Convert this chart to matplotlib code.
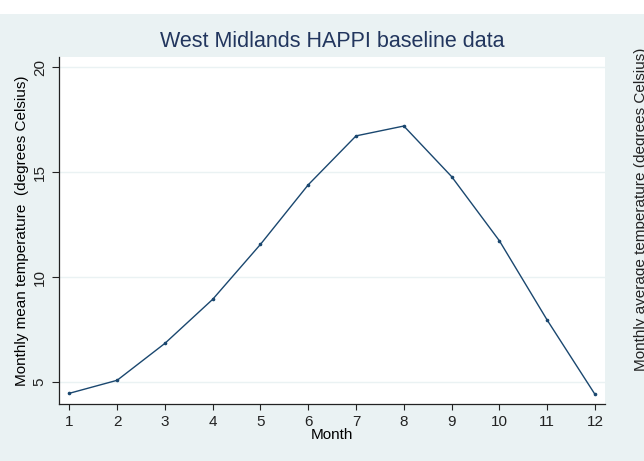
import matplotlib.pyplot as plt
from matplotlib.patches import Rectangle

plt.rcParams['font.family'] = ['Liberation Sans', 'DejaVu Sans']

# data
month = [1, 2, 3, 4, 5, 6, 7, 8, 9, 10, 11, 12]
temp = [4.46, 5.08, 6.84, 8.94, 11.56, 14.40, 16.73, 17.20, 14.79, 11.73, 7.95, 4.41]
yticks = [5, 10, 15, 20]

bg = '#eaf2f3'
navy = '#1a476f'

fig = plt.figure(figsize=(6.44, 4.61), dpi=100, facecolor='white')
# stata-like grey-blue background, white strip at top
fig.patches.append(Rectangle((0, 0), 1, (461 - 14) / 461, transform=fig.transFigure,
                             facecolor=bg, edgecolor='none', zorder=-10))

ax = fig.add_axes([59.3 / 644, (461 - 404) / 461, (605 - 59.3) / 644, (404 - 57) / 461])
ax.set_zorder(2)
ax.set_facecolor('white')

ax.plot(month, temp, color=navy, lw=1.0, marker='o', ms=1.6, mec=navy, mfc=navy)

ax.set_xlim(0.79, 12.21)
ax.set_ylim(3.95, 20.49)
ax.set_xticks(month)
ax.set_yticks(yticks)
ax.grid(axis='y', color=bg, lw=1.0)
ax.set_axisbelow(True)

for s in ['top', 'right']:
    ax.spines[s].set_visible(False)
for s in ['left', 'bottom']:
    ax.spines[s].set_color('#222222')
    ax.spines[s].set_linewidth(0.9)

ax.tick_params(axis='x', length=4, width=0.8, pad=4, labelsize=11, colors='#222222')
ax.tick_params(axis='y', length=5, width=0.8, pad=4, labelsize=11, colors='#222222')
for lab in ax.get_yticklabels():
    lab.set_rotation(90)
    lab.set_va('center')

ax.set_xlabel('Month', fontsize=11)
ax.xaxis.set_label_coords(0.5, -0.068)
ax.set_ylabel('Monthly mean temperature  (degrees Celsius)', fontsize=11)
ax.yaxis.set_label_coords(-0.056, 0.5)

fig.text(332 / 644, (461 - 46.7) / 461, 'West Midlands HAPPI baseline data',
         ha='center', va='baseline', fontsize=15.5, color='#22365e')

# second axis title, cut off at the right edge as in the original
fig.text(634 / 644, (461 - 209.5) / 461, 'Monthly average temperature (degrees Celsius)',
         rotation=90, ha='left', va='center', fontsize=11, color='#222222')

fig.savefig('out.png', dpi=100, facecolor='white')
